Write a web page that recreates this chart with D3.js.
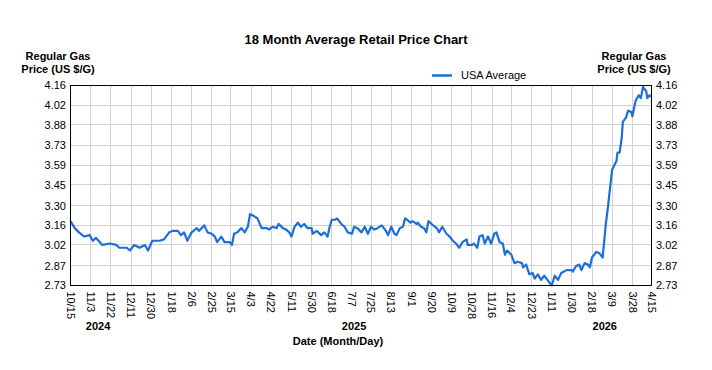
<!DOCTYPE html>
<html>
<head>
<meta charset="utf-8">
<script src="https://cdn.jsdelivr.net/npm/d3@7"></script>
<style>
	body {margin: 0; background: #fff;}
	text {font-family: Arial, "Liberation Sans", sans-serif; fill: #000;}
	.grid line {stroke: #d2d2d2; stroke-width: 1;}
	.bold {font-weight: bold;}
</style>
</head>
<body>
<div id="chart"></div>
<script>
// days since 10/15/2024
var dayIndex = [0, 4, 8, 13, 18, 21, 24, 30, 37, 43, 46, 53, 56, 60, 65, 70, 73, 77, 84, 88,
	93, 96, 101, 104, 107, 110, 114, 119, 121, 126, 129, 133, 136, 138, 142, 145, 150, 152, 154, 157,
	161, 164, 167, 169, 172, 176, 180, 185, 187, 190, 194, 196, 200, 203, 206, 208, 211, 214, 217, 220,
	223, 227, 228, 232, 236, 239, 242, 244, 246, 249, 251, 255, 258, 261, 265, 267, 270, 274, 277, 280,
	283, 286, 289, 293, 297, 299, 302, 305, 307, 310, 313, 315, 317, 320, 322, 326, 327, 330, 333, 335,
	337, 340, 343, 345, 347, 350, 354, 357, 360, 363, 366, 369, 373, 374, 378, 380, 383, 385, 388, 390,
	393, 396, 399, 401, 404, 407, 409, 411, 415, 418, 421, 425, 426, 429, 432, 435, 437, 440, 443, 446,
	449, 453, 456, 459, 462, 467, 472, 473, 476, 479, 481, 484, 487, 489, 491, 495, 498, 501, 504, 506,
	508, 510, 514, 515, 517, 519, 520, 523, 525, 528, 529, 532, 535, 537, 539, 542, 543, 545, 547];

var usaAverage = [3.19, 3.14, 3.11, 3.08, 3.09, 3.05, 3.07, 3.02, 3.03, 3.02, 3.00, 3.00, 2.98, 3.02, 3.00, 3.02, 2.98, 3.05, 3.05, 3.06,
	3.11, 3.12, 3.12, 3.09, 3.11, 3.05, 3.11, 3.14, 3.12, 3.16, 3.11, 3.10, 3.08, 3.04, 3.08, 3.04, 3.04, 3.02, 3.10, 3.11,
	3.14, 3.11, 3.15, 3.24, 3.23, 3.21, 3.14, 3.14, 3.13, 3.15, 3.14, 3.17, 3.14, 3.13, 3.11, 3.08, 3.15, 3.18, 3.15, 3.17,
	3.14, 3.14, 3.10, 3.12, 3.09, 3.11, 3.08, 3.15, 3.20, 3.20, 3.21, 3.17, 3.15, 3.11, 3.10, 3.15, 3.14, 3.11, 3.15, 3.10,
	3.15, 3.13, 3.14, 3.16, 3.12, 3.09, 3.15, 3.10, 3.09, 3.14, 3.15, 3.21, 3.20, 3.18, 3.19, 3.17, 3.18, 3.15, 3.14, 3.11,
	3.19, 3.17, 3.15, 3.14, 3.11, 3.15, 3.10, 3.08, 3.05, 3.03, 3.00, 3.04, 3.06, 3.02, 3.02, 3.03, 3.00, 3.08, 3.09, 3.03,
	3.08, 3.03, 3.10, 3.11, 3.04, 3.03, 2.95, 2.98, 2.95, 2.89, 2.90, 2.89, 2.86, 2.88, 2.81, 2.82, 2.78, 2.81, 2.77, 2.80,
	2.77, 2.73, 2.80, 2.77, 2.82, 2.84, 2.84, 2.83, 2.87, 2.88, 2.84, 2.89, 2.88, 2.86, 2.93, 2.97, 2.96, 2.93, 3.17, 3.29,
	3.43, 3.56, 3.62, 3.68, 3.68, 3.79, 3.90, 3.93, 3.98, 3.97, 3.94, 4.05, 4.09, 4.07, 4.15, 4.12, 4.07, 4.09, 4.08];

var yTicks = ["2.73", "2.87", "3.02", "3.16", "3.30", "3.45", "3.59", "3.73", "3.88", "4.02", "4.16"];
var xTickDates = ["2024-10-15", "2024-11-03", "2024-11-22", "2024-12-11", "2024-12-30", "2025-01-18",
	"2025-02-06", "2025-02-25", "2025-03-15", "2025-04-03", "2025-04-22", "2025-05-11", "2025-05-30",
	"2025-06-18", "2025-07-07", "2025-07-25", "2025-08-13", "2025-09-01", "2025-09-20", "2025-10-09",
	"2025-10-28", "2025-11-16", "2025-12-04", "2025-12-23", "2026-01-11", "2026-01-30", "2026-02-18",
	"2026-03-09", "2026-03-28", "2026-04-15"];
var yearLabels = [{"year": "2024", "date": "2024-11-10"}, {"year": "2025", "date": "2025-07-09"}, {"year": "2026", "date": "2026-03-02"}];
var seriesName = "USA Average";

var width = 712, height = 370;
var plot = {left: 70.5, right: 651.5, top: 85.5, bottom: 285.5};
var lineColor = "#1c6fd9";
var parse = d3.timeParse("%Y-%m-%d");
var startDate = parse("2024-10-15");

var data = dayIndex.map(function(d, i) {
	return {"date": d3.timeDay.offset(startDate, d), "value": usaAverage[i]};
});

var svg = d3.select("#chart").append("svg")
	.attr("width", width)
	.attr("height", height);

var x = d3.scaleTime()
	.domain([startDate, parse("2026-04-15")])
	.range([plot.left, plot.right]);
var y = d3.scaleLinear()
	.domain([2.73, 4.16])
	.range([plot.bottom, plot.top]);

// grid
var grid = svg.append("g").attr("class", "grid");
grid.selectAll("line.v")
	.data(xTickDates)
	.enter()
	.append("line")
	.attr("x1", d => Math.round(x(parse(d)) - 0.5) + 0.5)
	.attr("x2", d => Math.round(x(parse(d)) - 0.5) + 0.5)
	.attr("y1", plot.top)
	.attr("y2", plot.bottom);
grid.selectAll("line.h")
	.data(yTicks)
	.enter()
	.append("line")
	.attr("x1", plot.left)
	.attr("x2", plot.right)
	.attr("y1", d => Math.round(y(+d) - 0.5) + 0.5)
	.attr("y2", d => Math.round(y(+d) - 0.5) + 0.5);

// the line
var line = d3.line()
	.x(d => x(d.date))
	.y(d => y(d.value));
svg.append("path")
	.datum(data)
	.attr("fill", "none")
	.attr("stroke", lineColor)
	.attr("stroke-width", 2.2)
	.attr("stroke-linejoin", "round")
	.attr("d", line);

svg.append("rect")
	.attr("x", plot.left)
	.attr("y", plot.top)
	.attr("width", plot.right - plot.left)
	.attr("height", plot.bottom - plot.top)
	.attr("fill", "none")
	.attr("stroke", "#000")
	.attr("stroke-width", 1);

// y tick labels, both sides
svg.append("g")
	.selectAll("text")
	.data(yTicks)
	.enter()
	.append("text")
	.attr("x", 66)
	.attr("y", d => y(+d))
	.attr("dy", "0.35em")
	.attr("text-anchor", "end")
	.style("font-size", "11px")
	.text(d => d);
svg.append("g")
	.selectAll("text")
	.data(yTicks)
	.enter()
	.append("text")
	.attr("x", 656)
	.attr("y", d => y(+d))
	.attr("dy", "0.35em")
	.attr("text-anchor", "start")
	.style("font-size", "11px")
	.text(d => d);

// x tick labels, turned
var fmt = d3.timeFormat("%-m/%-d");
svg.append("g")
	.selectAll("text")
	.data(xTickDates)
	.enter()
	.append("text")
	.attr("transform", d => "translate(" + x(parse(d)) + "," + (plot.bottom + 6) + ") rotate(90)")
	.attr("dy", "0.35em")
	.attr("text-anchor", "start")
	.style("font-size", "11px")
	.text(d => fmt(parse(d)));

svg.append("g")
	.selectAll("text")
	.data(yearLabels)
	.enter()
	.append("text")
	.attr("class", "bold")
	.attr("x", d => x(parse(d.date)))
	.attr("y", 330)
	.attr("text-anchor", "middle")
	.style("font-size", "11px")
	.text(d => d.year);

svg.append("text")
	.attr("class", "bold")
	.attr("x", 338)
	.attr("y", 345)
	.attr("text-anchor", "middle")
	.style("font-size", "11px")
	.text("Date (Month/Day)");

svg.append("text")
	.attr("class", "bold")
	.attr("x", 356)
	.attr("y", 44)
	.attr("text-anchor", "middle")
	.style("font-size", "13px")
	.text("18 Month Average Retail Price Chart");

// axis titles
[58, 634].forEach(function(cx) {
	var t = svg.append("text")
		.attr("class", "bold")
		.attr("text-anchor", "middle")
		.style("font-size", "11px");
	t.append("tspan").attr("x", cx).attr("y", 60).text("Regular Gas");
	t.append("tspan").attr("x", cx).attr("y", 73).text("Price (US $/G)");
});

// legend
svg.append("line")
	.attr("x1", 432)
	.attr("x2", 452)
	.attr("y1", 75.5)
	.attr("y2", 75.5)
	.attr("stroke", lineColor)
	.attr("stroke-width", 2.5);
svg.append("text")
	.attr("x", 461)
	.attr("y", 79)
	.style("font-size", "11px")
	.text(seriesName);
</script>
</body>
</html>
